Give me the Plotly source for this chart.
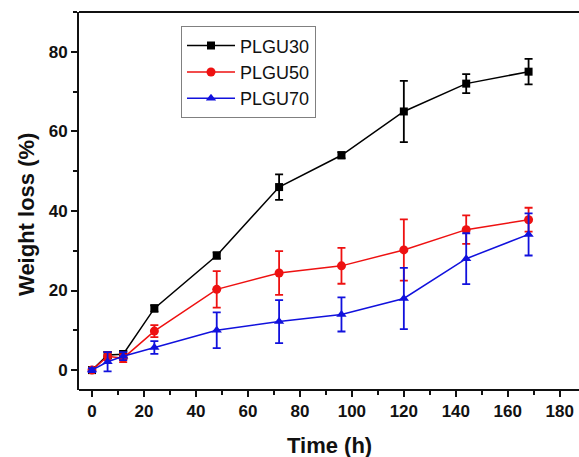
import plotly.graph_objects as go

# Sampling times (h)
time_h = [0, 6, 12, 24, 48, 72, 96, 120, 144, 168]

# Weight loss (%) and standard deviations for each polymer
plgu30 = [0, 3.8, 4.0, 15.5, 28.8, 46.0, 54.0, 65.0, 72.0, 75.0]
plgu30_err = [0.5, 0.8, 0.8, 0.8, 0.8, 3.2, 0.8, 7.7, 2.4, 3.2]

plgu50 = [0, 3.5, 3.0, 9.8, 20.3, 24.4, 26.2, 30.2, 35.3, 37.8]
plgu50_err = [0.5, 1.0, 1.0, 1.5, 4.6, 5.5, 4.5, 7.7, 3.6, 3.0]

plgu70 = [0, 2.1, 3.5, 5.7, 10.0, 12.2, 14.0, 18.0, 28.0, 34.1]
plgu70_err = [0.5, 2.4, 1.0, 1.6, 4.5, 5.4, 4.3, 7.7, 6.4, 5.3]

x_ticks = [0, 20, 40, 60, 80, 100, 120, 140, 160, 180]
y_ticks = [0, 20, 40, 60, 80]

series = [
    ("PLGU30", plgu30, plgu30_err, "#000000", "square", 8),
    ("PLGU50", plgu50, plgu50_err, "#ee1111", "circle", 9),
    ("PLGU70", plgu70, plgu70_err, "#1111dd", "triangle-up", 9),
]

FONT = "Liberation Sans, Arial, sans-serif"
INK = "#111111"

fig = go.Figure()
for name, vals, errs, color, symbol, size in series:
    fig.add_trace(go.Scatter(
        x=time_h, y=vals, name=name, mode="lines+markers",
        line=dict(color=color, width=1.5),
        marker=dict(symbol=symbol, size=size, color=color),
        error_y=dict(type="data", array=errs, visible=True,
                     color=color, thickness=1.8, width=4),
    ))

axis_font = dict(family=FONT, size=17, color=INK)
title_font = dict(family=FONT, size=22, color=INK)


def frame_line(y):
    """Horizontal frame line across the plot area at paper height y."""
    return dict(type="line", xref="paper", yref="paper", layer="above",
                x0=0, x1=1, y0=y, y1=y, line=dict(color=INK, width=2))


# the figure is open on the right: mask the right-hand edge of the plot box
right_mask = dict(type="rect", xref="paper", yref="paper", layer="above",
                  x0=0.993, x1=1.02, y0=-0.02, y1=1.02,
                  fillcolor="white", line=dict(width=0))

fig.update_layout(
    width=579, height=457,
    margin=dict(l=79, r=0, t=12, b=67),
    paper_bgcolor="white", plot_bgcolor="white",
    showlegend=True,
    legend=dict(
        x=0.204, y=0.962, xanchor="left", yanchor="top",
        bgcolor="white", bordercolor="#808080", borderwidth=1,
        font=dict(family=FONT, size=18, color=INK),
        itemwidth=48, tracegroupgap=0,
    ),
    xaxis=dict(
        range=[-5, 187.4], tickvals=x_ticks,
        ticktext=[f"<b>{v}</b>" for v in x_ticks],
        ticks="outside", ticklen=6, tickwidth=1.5, tickcolor=INK,
        minor=dict(dtick=10, tick0=0, ticks="outside", ticklen=4,
                   tickwidth=1.5, tickcolor=INK),
        showline=False, showgrid=False, zeroline=False, tickfont=axis_font,
    ),
    yaxis=dict(
        range=[-5, 90], tickvals=y_ticks,
        ticktext=[f"<b>{v}</b>" for v in y_ticks],
        ticks="outside", ticklen=6, tickwidth=1.5, tickcolor=INK,
        minor=dict(dtick=10, tick0=0, ticks="outside", ticklen=4,
                   tickwidth=1.5, tickcolor=INK),
        showline=True, linecolor=INK, linewidth=2, mirror=False,
        showgrid=False, zeroline=False, tickfont=axis_font,
    ),
    # right-edge mask, then bottom axis line and top frame line
    shapes=[right_mask, frame_line(0), frame_line(1)],
    annotations=[
        dict(text="<b>Time (h)</b>", xref="paper", yref="paper",
             x=0.5, y=-0.147, xanchor="center", yanchor="middle",
             showarrow=False, font=title_font),
        dict(text="<b>Weight loss (%)</b>", xref="paper", yref="paper",
             x=-0.104, y=0.463, xanchor="center", yanchor="middle",
             textangle=-90, showarrow=False, font=title_font),
    ],
)

fig.write_html("out.html")
